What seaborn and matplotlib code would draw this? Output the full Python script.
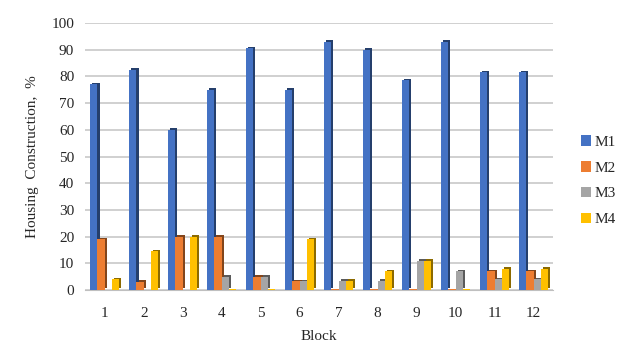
import pandas as pd
import matplotlib.pyplot as plt
import matplotlib.patheffects as pe
from matplotlib.patches import Patch
import seaborn as sns

# Datos
blocks = [str(i) for i in range(1, 13)]
m1 = [77, 82.5, 60, 75, 90.5, 75, 93, 90, 78.5, 93, 81.5, 81.5]
m2 = [19, 3, 20, 20, 5, 3.3, 0.3, 0.3, 0.3, 0.3, 7, 7]
m3 = [0, 0, 0, 5, 5, 3.3, 3.5, 3.5, 11, 7, 4, 4]
m4 = [4, 14.5, 20, 0.3, 0.3, 19, 3.5, 7, 11, 0.3, 8, 8]
series = ['M1', 'M2', 'M3', 'M4']
colors = ['#4472C4', '#ED7D31', '#A5A5A5', '#FFC000']

df = pd.DataFrame({'Block': blocks, 'M1': m1, 'M2': m2, 'M3': m3, 'M4': m4})
long_df = df.melt(id_vars='Block', value_vars=series, var_name='Series', value_name='Value')

sns.set_style("white")
plt.rcParams['font.family'] = ['Liberation Serif', 'DejaVu Serif']

fig = plt.figure(figsize=(6.27, 3.6), dpi=100)
ax = fig.add_axes([0.136, 0.194, 0.746, 0.742])

sns.barplot(data=long_df, x='Block', y='Value', hue='Series', palette=colors,
            saturation=1, width=0.75, dodge=True, linewidth=0, legend=False,
            ax=ax, zorder=3)

# Efecto 3D sencillo con sombra oscura
for patch in ax.patches:
    patch.set_path_effects([pe.SimplePatchShadow(offset=(1.5, 1.2), rho=0.55, alpha=1),
                            pe.Normal()])

ax.set_ylim(0, 100)
ax.set_yticks(range(0, 101, 10))
ax.yaxis.grid(True, color='#C8C8C8', linewidth=1.2, zorder=0)
for s in ['top', 'right', 'left']:
    ax.spines[s].set_visible(False)
ax.spines['bottom'].set_color('#BFBFBF')
ax.tick_params(axis='y', length=0, labelsize=11, pad=8)
ax.tick_params(axis='x', length=0, labelsize=11, pad=12)

ax.set_xlabel("Block", fontsize=11, labelpad=7)
ax.set_ylabel("Housing  Construction,  %", fontsize=11, labelpad=9)

handles = [Patch(facecolor=c, edgecolor='none') for c in colors]
ax.legend(handles, series, loc='center left', bbox_to_anchor=(1.03, 0.41),
          frameon=False, fontsize=11, handlelength=0.7, handleheight=0.7,
          handletextpad=0.2, labelspacing=0.8)

fig.savefig('out.png', dpi=100)
